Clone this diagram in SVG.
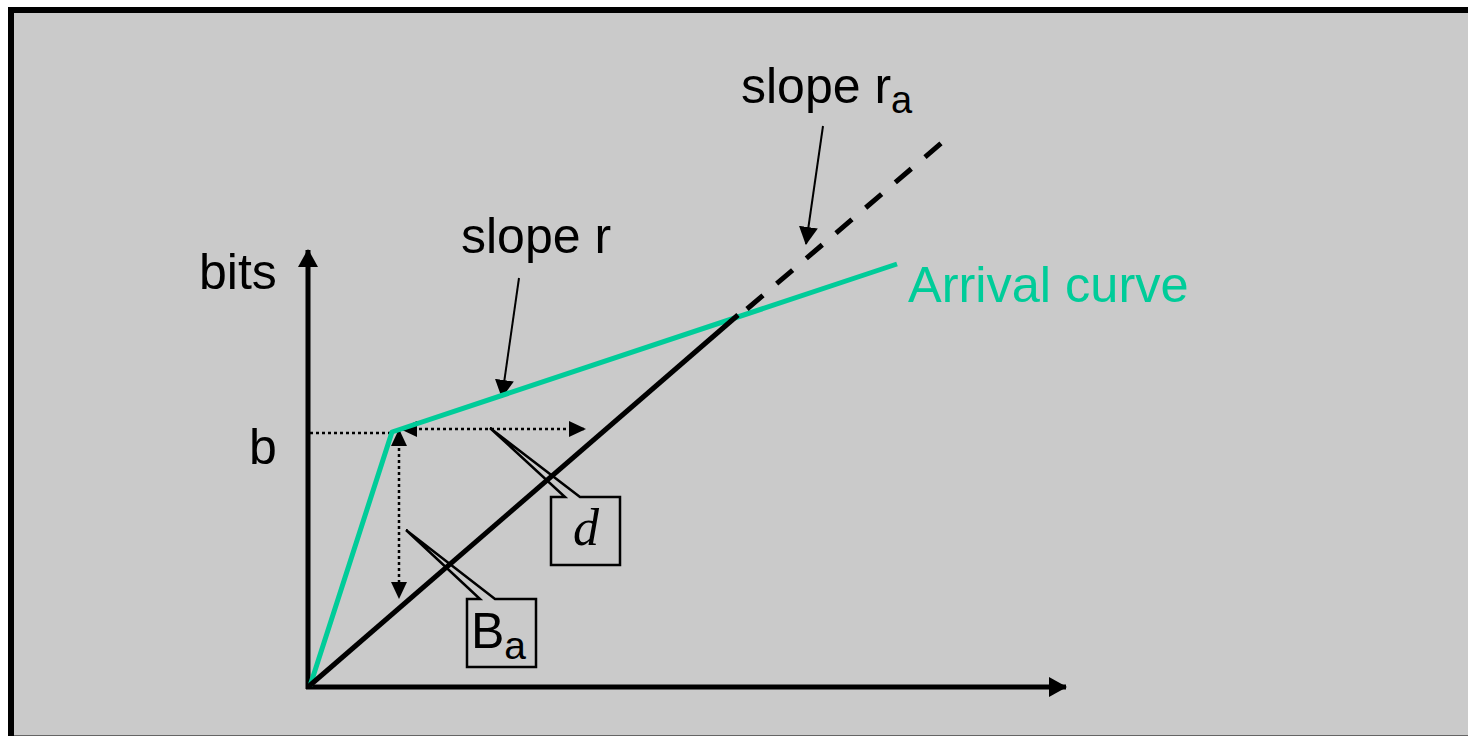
<svg xmlns="http://www.w3.org/2000/svg" width="1468" height="736" viewBox="0 0 1468 736">
<style>
.t{font-family:"Liberation Sans",Arial,sans-serif;font-size:50px;fill:#000}
.ax{stroke:#000;stroke-width:5;fill:none}
.dot{stroke:#000;stroke-width:2.5;stroke-dasharray:3 3;fill:none}
.thin{stroke:#000;stroke-width:2;fill:none}
.green{stroke:#00cc99;stroke-width:5;fill:none;stroke-linejoin:round}
.call{stroke:#000;stroke-width:2.5;fill:none;stroke-linejoin:miter}
</style>
<defs>
<marker id="ah" markerUnits="userSpaceOnUse" markerWidth="18" markerHeight="20" viewBox="0 0 18 20" refX="17" refY="10" orient="auto">
<path d="M0,0 L18,10 L0,20 Z" fill="#000"/>
</marker>
<marker id="aht" markerUnits="userSpaceOnUse" markerWidth="18" markerHeight="19" viewBox="0 0 18 19" refX="17" refY="9.5" orient="auto">
<path d="M0,0 L18,9.5 L0,19 Z" fill="#000"/>
</marker>
<marker id="ahs" markerUnits="userSpaceOnUse" markerWidth="17" markerHeight="16" viewBox="0 0 17 16" refX="16" refY="8" orient="auto-start-reverse">
<path d="M0,0 L17,8 L0,16 Z" fill="#000"/>
</marker>
</defs>
<rect x="11" y="10" width="1470" height="728.5" fill="#cacaca" stroke="#000" stroke-width="6"/>

<g id="axes">
<line class="ax" x1="308" y1="689" x2="308" y2="250" marker-end="url(#ah)"/>
<line class="ax" x1="306" y1="687" x2="1066" y2="687" marker-end="url(#ah)"/>
</g>

<g id="labels">
<text class="t" x="199" y="289">bits</text>
<text class="t" x="249" y="464">b</text>
<text class="t" x="461" y="253">slope r</text>
<text class="t" x="741" y="103">slope r<tspan font-size="38" dy="10">a</tspan></text>
<text class="t" x="908" y="302" style="fill:#00cc99;font-size:50.5px">Arrival curve</text>
</g>

<g id="callout-d">
<path class="call" d="M551,497 L565,497 L490,428 L580,497 L620,497 L620,565 L551,565 Z"/>
<text x="586" y="545" text-anchor="middle" font-family="'Liberation Serif','Times New Roman',serif" font-style="italic" font-size="52">d</text>
</g>

<g id="callout-Ba">
<path class="call" d="M467,599 L480,599 L406,530 L495,599 L536,599 L536,667 L467,667 Z"/>
<text class="t" x="471" y="648">B<tspan font-size="39" dy="11">a</tspan></text>
</g>

<g id="connectors">
<line class="dot" x1="310" y1="433" x2="392" y2="433"/>
<line class="dot" x1="401" y1="429" x2="585" y2="429" marker-start="url(#ahs)" marker-end="url(#ahs)"/>
<line class="dot" x1="399" y1="430" x2="399" y2="598" marker-start="url(#ahs)" marker-end="url(#ahs)"/>
<line class="thin" x1="519" y1="278" x2="502" y2="397" marker-end="url(#aht)"/>
<line class="thin" x1="823" y1="126" x2="806" y2="244" marker-end="url(#aht)"/>
</g>

<g id="curves">
<polyline class="green" points="310,686 392,432 897,264"/>
<line x1="308" y1="687" x2="738" y2="315" stroke="#000" stroke-width="5"/>
<line x1="747" y1="309" x2="945" y2="140" stroke="#000" stroke-width="5" stroke-dasharray="21 18"/>
</g>
</svg>
